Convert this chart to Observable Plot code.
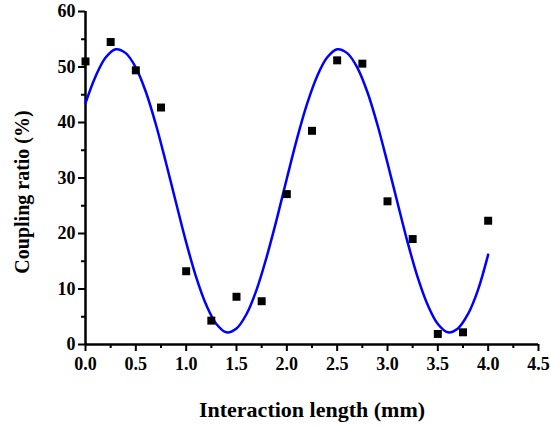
<!DOCTYPE html>
<html><head><meta charset="utf-8">
<script src="https://cdn.jsdelivr.net/npm/d3@7"></script>
<script src="https://cdn.jsdelivr.net/npm/@observablehq/plot@0.6"></script>
<style>body{margin:0;background:#fff}</style>
</head><body><div id="chart"></div>
<script>
const lengths = [0,0.25,0.5,0.75,1.0,1.25,1.5,1.75,2.0,2.25,2.5,2.75,3.0,3.25,3.5,3.75,4.0];
const ratios  = [51.0,54.5,49.4,42.7,13.2,4.3,8.6,7.8,27.1,38.5,51.2,50.6,25.8,19.0,1.9,2.2,22.3];
const fitX = [0,0.1,0.2,0.3,0.4,0.5,0.6,0.7,0.8,0.9,1.0,1.1,1.2,1.3,1.4,1.5,1.6,1.7,1.8,1.9,2.0,2.1,2.2,2.3,2.4,2.5,2.6,2.7,2.8,2.9,3.0,3.1,3.2,3.3,3.4,3.5,3.6,3.7,3.8,3.9,4.0];
const fitY = [43.5,48.3,51.7,53.2,52.5,49.9,45.5,39.6,32.7,25.5,18.4,12.1,7.1,3.7,2.2,2.9,5.5,9.9,15.8,22.6,29.9,37.0,43.3,48.3,51.7,53.2,52.5,49.9,45.5,39.6,32.7,25.5,18.4,12.1,7.1,3.7,2.2,2.9,5.5,9.9,16.2];
const xTicks = [0,0.5,1.0,1.5,2.0,2.5,3.0,3.5,4.0,4.5];
const xMinor = [0.25,0.75,1.25,1.75,2.25,2.75,3.25,3.75,4.25];
const yTicks = [0,10,20,30,40,50,60];
const yMinor = [5,15,25,35,45,55];
const xLabel = "Interaction length (mm)";
const yLabel = "Coupling ratio (%)";

const points = lengths.map((x,i)=>({x, y: ratios[i]}));
const fit = fitX.map((x,i)=>({x, y: fitY[i]}));
const font = "'Liberation Serif','Times New Roman',serif";

const chart = Plot.plot({
  width: 551, height: 426,
  marginLeft: 85, marginRight: 13, marginTop: 11, marginBottom: 82,
  style: {fontFamily: font, fontWeight: "bold", fontSize: "18px", color: "#000", background: "#fff"},
  x: {domain: [0,4.5]},
  y: {domain: [0,60]},
  marks: [
    Plot.axisX({ticks: xMinor, tickSize: 4, text: null, label: null, strokeWidth: 2}),
    Plot.axisX({ticks: xTicks, tickSize: 7, tickFormat: d3.format(".1f"), label: null, strokeWidth: 2, tickPadding: 6, fontSize: 18}),
    Plot.axisY({ticks: yMinor, tickSize: 4, text: null, label: null, strokeWidth: 2}),
    Plot.axisY({ticks: yTicks, tickSize: 7, tickFormat: d=>d, label: null, strokeWidth: 2, tickPadding: 3, fontSize: 18}),
    Plot.ruleY([0], {stroke: "#000", strokeWidth: 2.5}),
    Plot.ruleX([0], {stroke: "#000", strokeWidth: 2.5}),
    Plot.line(fit, {x: "x", y: "y", stroke: "#0000ff", strokeWidth: 2.5, curve: "catmull-rom"}),
    Plot.dot(points, {x: "x", y: "y", symbol: "square", r: 4.5, fill: "#000", stroke: "none"}),
    Plot.text([xLabel], {frameAnchor: "bottom", textAnchor: "middle", lineAnchor: "middle", dy: 65, text: d=>d, fontSize: 22, fontWeight: "bold", fill: "#000"}),
    Plot.text([yLabel], {frameAnchor: "left", textAnchor: "middle", lineAnchor: "middle", dx: -63, dy: 14, rotate: -90, text: d=>d, fontSize: 20, fontWeight: "bold", fill: "#000"})
  ]
});
document.getElementById("chart").append(chart);
</script></body></html>
